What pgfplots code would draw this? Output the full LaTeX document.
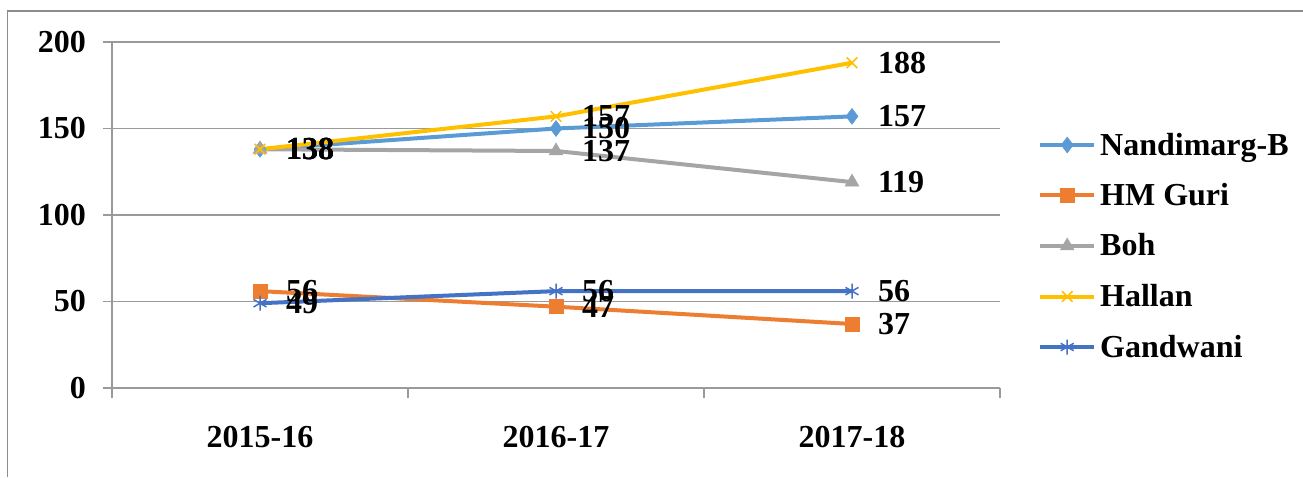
\documentclass[border=0pt]{standalone}
\usepackage{pgfplots}
\pgfplotsset{compat=1.18}
\usepackage{pgfplotstable}
\usepackage{fontspec}
\setmainfont{Liberation Serif}
\definecolor{cNB}{HTML}{5B9BD5}
\definecolor{cHM}{HTML}{ED7D31}
\definecolor{cBoh}{HTML}{A5A5A5}
\definecolor{cHal}{HTML}{FFC000}
\definecolor{cGan}{HTML}{4472C4}
\definecolor{axgray}{HTML}{9A9A9A}
\definecolor{framegray}{HTML}{8C8C8C}
\pgfplotstableread{
x NB HM Boh Hal Gan
0 138 56 138 138 49
1 150 47 137 157 56
2 157 37 119 188 56
}\datatable
\newcommand{\bigfont}{\fontsize{32}{36}\selectfont\bfseries}
\begin{document}
\begin{tikzpicture}
\useasboundingbox (0,0) rectangle (1303pt,477pt);
\draw[framegray, line width=1.5pt] (7.5pt,0pt) -- (7.5pt,466pt) -- (1303pt,466pt);
\begin{axis}[
  at={(112pt,89pt)}, anchor=south west,
  scale only axis, width=888pt, height=346pt,
  xmin=-0.5, xmax=2.5, ymin=0, ymax=200,
  clip=false,
  axis x line*=bottom, axis y line*=left,
  axis line style={draw=axgray, line width=1.5pt, -},
  ytick={0,50,100,150,200},
  ymajorgrids, grid style={draw=axgray, line width=1.5pt},
  tick align=outside,
  major tick length=9pt,
  ytick style={draw=axgray, line width=1.5pt},
  xtick={0,1,2},
  xticklabels={2015-16,2016-17,2017-18},
  xtick style={draw=none},
  extra x ticks={-0.5,0.5,1.5,2.5},
  extra x tick labels={},
  extra x tick style={grid=none, xtick style={draw=axgray, line width=1.5pt}, major tick length=10pt},
  /pgf/number format/assume math mode=true,
  ticklabel style={font=\bigfont, text=black},
  yticklabel style={anchor=east, inner sep=0pt, xshift=-17pt},
  xticklabel style={anchor=north, inner sep=0pt, yshift=-29pt},
  legend style={draw=none, fill=none, at={(1.043,0.737)}, anchor=north west,
    inner sep=0pt, outer sep=0pt, row sep=21.5pt, column sep=4pt,
    nodes={font=\bigfont, text=black, inner sep=0pt, text height=22pt, text depth=7pt, anchor=base west}},
  legend cell align=left,
  legend image code/.code={\draw[mark repeat=2, mark phase=2, yshift=10pt, #1] plot coordinates {(0pt,0pt) (27pt,0pt) (54pt,0pt)};},
  every axis plot/.append style={line width=4pt},
]
\addplot[cNB, mark=diamond*, mark size=8pt, mark options={fill=cNB, line width=0.5pt}] table[x=x, y=NB] {\datatable};
\addlegendentry{Nandimarg-B}
\addplot[cHM, mark=square*, mark size=7pt, mark options={fill=cHM, line width=0.5pt}] table[x=x, y=HM] {\datatable};
\addlegendentry{HM Guri}
\addplot[cBoh, mark=triangle*, mark size=8pt, mark options={fill=cBoh, line width=0.5pt}] table[x=x, y=Boh] {\datatable};
\addlegendentry{Boh}
\addplot[cHal, mark=x, mark size=7.5pt, mark options={line width=1.5pt}] table[x=x, y=Hal] {\datatable};
\addlegendentry{Hallan}
\addplot[cGan, mark=asterisk, mark size=7.5pt, mark options={line width=1.5pt}] table[x=x, y=Gan] {\datatable};
\addlegendentry{Gandwani}
\pgfplotsset{every node near coord/.style={font=\bigfont, text=black, anchor=west, inner sep=0pt, xshift=24pt}}
\foreach \c in {NB,HM,Boh,Hal,Gan}{
  \addplot[draw=none, mark=none, forget plot, nodes near coords, point meta=y] table[x=x, y=\c] {\datatable};
}
\end{axis}
\end{tikzpicture}
\end{document}
